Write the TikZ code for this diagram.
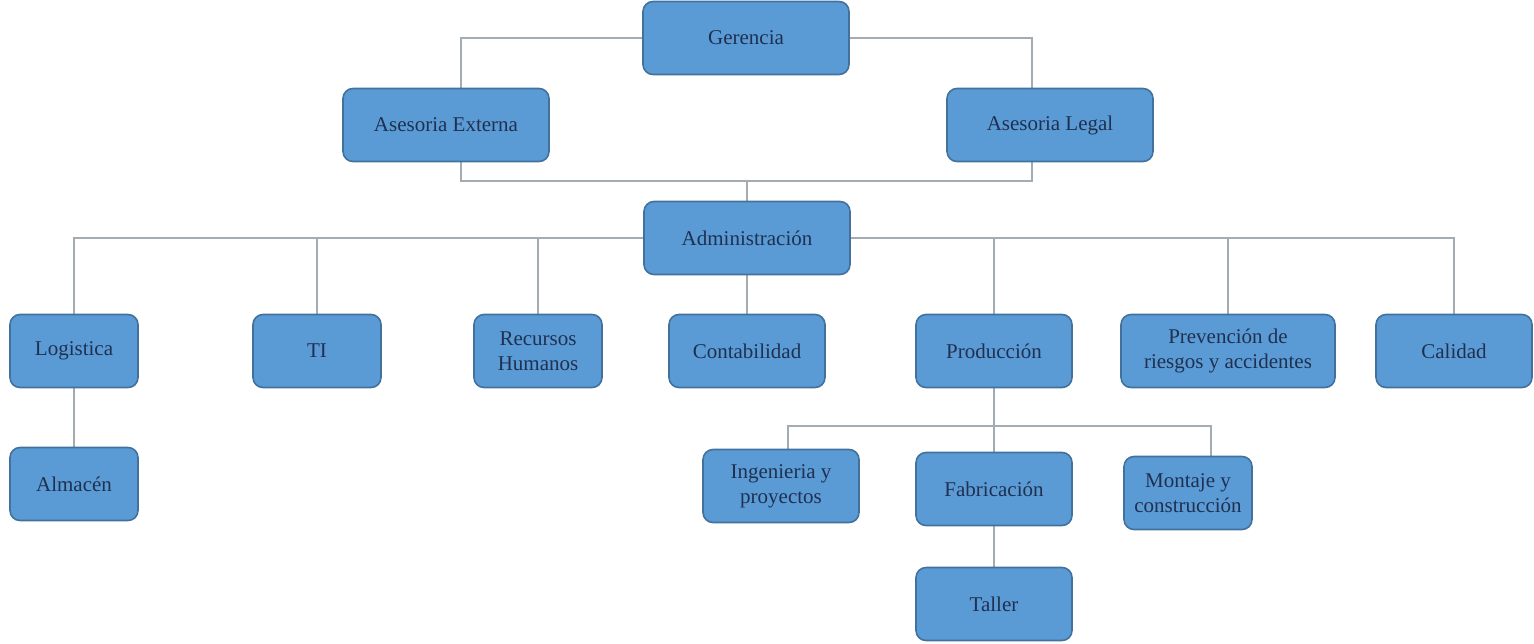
\documentclass[tikz,border=0pt]{standalone}
\usepackage{fontspec}
\setmainfont{Liberation Serif}
\usepackage{tikz}
\usetikzlibrary{positioning,calc,backgrounds}
\definecolor{boxfill}{HTML}{5B9BD5}
\definecolor{boxline}{HTML}{41719C}
\definecolor{boxtext}{HTML}{1F3050}
\definecolor{wire}{HTML}{A3ABB3}

\begin{document}
\begin{tikzpicture}[x=0.5pt,y=-0.5pt,
		font=\fontsize{10.5}{12.5}\selectfont,
		unit/.style={draw=boxline,fill=boxfill,text=boxtext,line width=0.8pt,
			rounded corners=5pt,align=center,inner sep=0pt,
			minimum height=36.5pt,minimum width=#1},
		unit/.default=78pt,
		link/.style={draw=wire,line width=0.7pt},
	]
		\useasboundingbox (0,0) rectangle (1534,643);

		% top
		\node[unit=103pt] (ger) at (746,38) {Gerencia};
		\node[unit=103pt] (aext) at (446,125) {Asesoria Externa};
		\node[unit=103pt] (aleg) at (1050,125) {Asesoria Legal};
		\node[unit=103pt] (adm) at (747,238) {Administración};

		% departamentos
		\node[unit=64pt] (log) at (74,351) {Logistica};
		\node[unit=64pt] (ti) at (317,351) {TI};
		\node[unit=64pt] (rh) at (538,351) {Recursos\\Humanos};
		\node[unit] (cont) at (747,351) {Contabilidad};
		\node[unit] (prod) at (994,351) {Producción};
		\node[unit=107pt] (prev) at (1228,351) {Prevención de\\riesgos y accidentes};
		\node[unit] (cal) at (1454,351) {Calidad};

		% subareas
		\node[unit=64pt] (alm) at (74,484) {Almacén};
		\node[unit] (ing) at (781,486) {Ingenieria y\\proyectos};
		\node[unit] (fab) at (994,489) {Fabricación};
		\node[unit=64pt] (mont) at (1188,493) {Montaje y\\construcción};
		\node[unit] (tal) at (994,604) {Taller};

		\coordinate (jl) at (461,181);
		\coordinate (jr) at (1032,181);
		\coordinate (pj) at (994,426);

		\begin{pgfonlayer}{background}
			\path[link]
				(ger.west) -| (jl) -- (jr) |- (ger.east)
				(adm.north) -- (adm.north |- jl)
				(adm) -- (cont)
				(log) -- (alm)
				(prod) -- (fab)
				(fab) -- (tal)
				([xshift=3.5pt]ing.north) |- (pj) -| ([xshift=11.5pt]mont.north)
			;
			\foreach \dep in {log,ti,rh,prod,prev,cal}
				\path[link] (adm) -| (\dep.north);
		\end{pgfonlayer}
	\end{tikzpicture}
\end{document}
